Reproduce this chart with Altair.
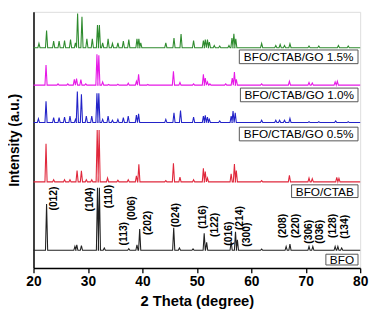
import altair as alt
import pandas as pd

# ---- data (2theta in degrees, intensity in a.u.) ----
SERIES = ["BFO", "BFO/CTAB", "BFO/CTAB/GO 0.5%", "BFO/CTAB/GO 1.0%", "BFO/CTAB/GO 1.5%"]
OFFSETS = [18, 88, 148.7, 187, 225.3]
COLORS = ["#222222", "#e0283c", "#2323c8", "#e619e6", "#2e8b2e"]

BFO_POS = [22.4, 27.6, 27.95, 28.8, 31.75, 32.1, 33.0, 37.5, 39.0, 39.5, 45.75, 46.8,
           49.3, 51.35, 51.8, 56.3, 57.1, 57.45, 61.9, 66.4, 67.1, 70.6, 71.3, 75.4, 75.9, 76.6]
BFO_INT = [47.3, 4, 5.7, 4.7, 64, 64, 2.3, 1.7, 5.7, 21.7, 23, 2.3,
           1.5, 17.3, 8.3, 9, 19, 10.7, 1.3, 4, 6.3, 4, 4, 4, 4, 2.3]

CTAB_POS = [22.3, 23.7, 25.7, 26.7, 28.0, 28.8, 29.7, 30.7, 31.7, 32.05, 33.6, 35.5, 37.4,
            38.9, 39.35, 44.3, 45.7, 46.9, 49.4, 51.2, 51.55, 51.95, 56.3, 56.9, 57.25,
            61.9, 67.0, 70.6, 71.2, 75.7, 76.1]
CTAB_INT = [39, 2.3, 2.3, 2.3, 11.7, 11.3, 2.3, 2.3, 53, 53, 4, 1.7, 2.3,
            6.3, 18, 1.3, 19, 5, 2.3, 14, 10.7, 4, 8.3, 18.3, 11.7,
            1.3, 6.7, 4, 3.3, 4.7, 3.7]

GO05_POS = [20.9, 22.3, 23.7, 24.7, 25.7, 26.7, 27.7, 28.05, 28.8, 29.7, 30.7, 31.65, 32.0,
            32.7, 33.7, 34.5, 35.5, 36.5, 37.4, 38.9, 39.3, 44.3, 45.8, 47.0, 49.4,
            51.2, 51.55, 51.95, 52.3, 54.2, 56.3, 56.65, 57.05, 61.9, 64.5, 65.2, 66.1,
            67.1, 70.6, 72.4, 75.5, 77.8]
GO05_INT = [4, 21.7, 5, 5, 5.7, 6.7, 3.3, 31.7, 29, 6.7, 6.7, 30, 30,
            3.3, 6.7, 2.3, 3.3, 5, 6.7, 7.7, 9, 3.3, 10, 12.3, 5.7,
            6.7, 7.3, 5.7, 3.3, 1.7, 6.7, 11.7, 10, 2.3, 2.3, 2.3, 2.3,
            4.3, 1, 1, 1.7, 1]

GO10_POS = [22.3, 24.5, 26.3, 27.5, 27.9, 28.7, 29.6, 31.65, 32.0, 32.7, 33.8, 35.5, 37.4,
            38.9, 39.3, 41.0, 45.7, 46.9, 49.4, 51.2, 51.55, 51.95, 52.4, 55.3, 56.5,
            56.9, 57.25, 61.9, 67.0, 70.6, 71.2, 75.4, 75.8]
GO10_INT = [20.7, 1.3, 1.3, 6, 6.7, 5.7, 1.3, 31.7, 30.7, 3.3, 0.7, 1, 2,
            4, 11, 0.7, 14.3, 2.7, 1.3, 11, 7.3, 3.3, 1.3, 1.3, 7.3,
            13.3, 6, 1.3, 4, 2.7, 2.3, 3.3, 4]

GO15_POS = [21.0, 22.4, 23.7, 24.7, 25.7, 26.8, 27.7, 28.1, 28.9, 29.8, 30.8, 31.75, 32.1,
            32.7, 33.7, 34.5, 35.5, 36.5, 37.5, 39.0, 39.35, 39.7, 44.3, 45.8, 47.1, 49.4,
            51.2, 51.55, 51.95, 52.3, 53.2, 54.2, 55.9, 56.45, 56.8, 57.15, 61.9, 64.5,
            65.3, 66.1, 67.1, 70.6, 72.4, 76.0, 77.8]
GO15_INT = [4.3, 17.7, 6.7, 6.7, 7.3, 8.3, 5, 35, 31.7, 9, 9, 23.3, 23.3,
            5, 9, 4.3, 5, 6.7, 8.3, 9, 9, 5, 5, 10, 14, 7.3,
            7.3, 8.3, 8.3, 5.7, 2.3, 1.7, 2.3, 10, 14.3, 9, 4.3, 2.3,
            3.3, 2.3, 4, 1.7, 1.7, 2.3, 1.7]

PEAK_POS = [BFO_POS, CTAB_POS, GO05_POS, GO10_POS, GO15_POS]
PEAK_INT = [BFO_INT, CTAB_INT, GO05_INT, GO10_INT, GO15_INT]

HKL_TEXT = ["(012)", "(104)", "(110)", "(113)", "(006)", "(202)", "(024)", "(116)", "(122)",
            "(016)", "(214)", "(300)", "(208)", "(220)", "(306)", "(036)", "(128)", "(134)"]
HKL_X = [23.7, 30.3, 33.9, 36.6, 38.1, 41.1, 46.25, 51.05, 53.3,
         55.85, 57.95, 59.15, 65.8, 68.2, 70.6, 72.6, 75.1, 77.2]
HKL_Y = [71, 70, 73, 35, 61, 46, 54, 52, 44, 35, 51, 34, 43, 43, 37, 37, 43, 42]

LABEL_TEXT = ["BFO", "BFO/CTAB", "BFO/CTAB/GO 0.5%", "BFO/CTAB/GO 1.0%", "BFO/CTAB/GO 1.5%"]
LABEL_X1 = [73.7, 67.4, 57.8, 58.0, 57.8]
LABEL_X2 = [79.6, 79.6, 79.6, 79.6, 79.6]
LABEL_Y1 = [3, 72, 130, 170, 209]
LABEL_Y2 = [14, 85, 144, 184, 223]

HALF_WIDTH = 0.2

# ---- build the line table ----
rows = []
for name, off, pos, inten in zip(SERIES, OFFSETS, PEAK_POS, PEAK_INT):
    pts = [(20.0, off)]
    for p, h in zip(pos, inten):
        pts += [(p - HALF_WIDTH, off), (p, off + h), (p + HALF_WIDTH, off)]
    pts.append((80.0, off))
    for i, (x, y) in enumerate(pts):
        rows.append({"series": name, "theta": x, "intensity": y, "order": i})
lines_df = pd.DataFrame(rows)

hkl_df = pd.DataFrame({"text": HKL_TEXT, "theta": HKL_X, "intensity": HKL_Y})
lab_df = pd.DataFrame({
    "text": LABEL_TEXT, "x1": LABEL_X1, "x2": LABEL_X2, "y1": LABEL_Y1, "y2": LABEL_Y2,
})
lab_df["xc"] = (lab_df["x1"] + lab_df["x2"]) / 2
lab_df["yc"] = (lab_df["y1"] + lab_df["y2"]) / 2

FONT = "Liberation Sans"

xscale = alt.Scale(domain=[20, 80], nice=False, zero=False)
yscale = alt.Scale(domain=[0, 262], nice=False, zero=False)

xaxis = alt.Axis(
    title="2 Theta (degree)",
    values=list(range(20, 81, 5)),
    labelExpr="datum.value % 10 === 0 ? datum.label : ''",
    tickSize={"condition": {"test": "datum.value % 10 === 0", "value": 5}, "value": 3},
    grid=False, labelFontSize=14, labelFontWeight="bold", labelFont=FONT,
    labelColor="black", labelPadding=2,
    titleFontSize=15, titleFontWeight="bold", titleFont=FONT, titleColor="black",
    titlePadding=5, domainColor="black", domainWidth=1.5, tickColor="black",
    tickWidth=1.3, labelFlush=False,
)
yaxis = alt.Axis(
    title="Intensity (a.u.)", labels=False, ticks=False, grid=False,
    titleFontSize=14, titleFontWeight="bold", titleFont=FONT, titleColor="black",
    titlePadding=12, domainColor="black", domainWidth=1.5,
)

lines = alt.Chart(lines_df).mark_line(strokeWidth=1.1, interpolate="linear").encode(
    x=alt.X("theta:Q", scale=xscale, axis=xaxis),
    y=alt.Y("intensity:Q", scale=yscale, axis=yaxis),
    color=alt.Color("series:N", scale=alt.Scale(domain=SERIES, range=COLORS), legend=None),
    order="order:Q",
    detail="series:N",
)

hkl = alt.Chart(hkl_df).mark_text(
    angle=270, fontSize=10.5, fontWeight="bold", font=FONT, color="black",
    align="center", baseline="middle",
).encode(
    x=alt.X("theta:Q", scale=xscale),
    y=alt.Y("intensity:Q", scale=yscale),
    text="text:N",
)

boxes = alt.Chart(lab_df).mark_rect(fill="white", stroke="#555555", strokeWidth=1).encode(
    x=alt.X("x1:Q", scale=xscale), x2="x2:Q",
    y=alt.Y("y1:Q", scale=yscale), y2="y2:Q",
)
box_text = alt.Chart(lab_df).mark_text(
    fontSize=12, font=FONT, color="black", align="center", baseline="middle", dy=0.5,
).encode(
    x=alt.X("xc:Q", scale=xscale),
    y=alt.Y("yc:Q", scale=yscale),
    text="text:N",
)

chart = alt.layer(lines, hkl, boxes, box_text).properties(
    width=333, height=261,
    padding={"left": 0, "top": 0, "right": 2, "bottom": 0},
).configure_view(stroke="black", strokeWidth=1.5).configure(background="white")

chart.save("out.html", embed_options={"renderer": "svg", "actions": False})
